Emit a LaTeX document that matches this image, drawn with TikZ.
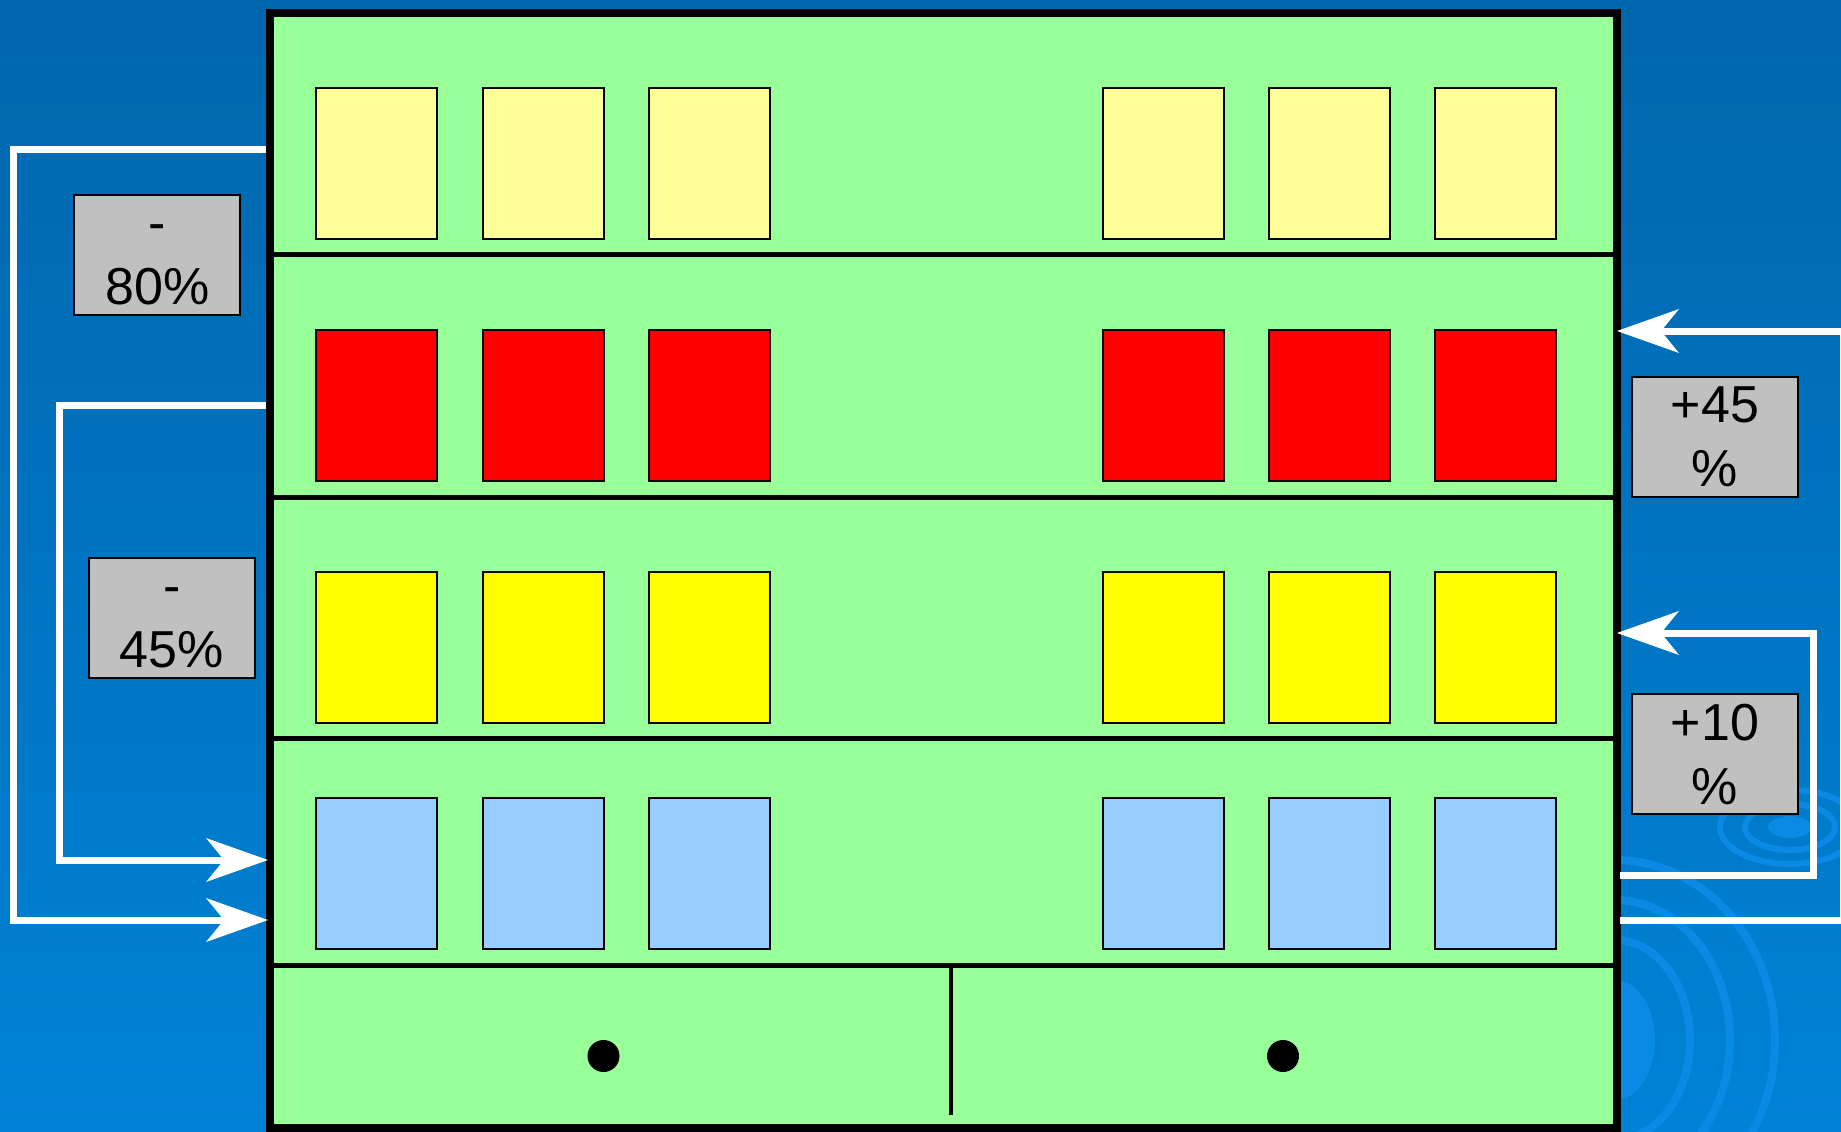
\documentclass[tikz,border=0pt]{standalone}
\usepackage{fontspec}
\setmainfont{Liberation Sans}
\usepackage{xcolor}
\usepackage{tikz}
\usetikzlibrary{arrows.meta}
\definecolor{BGTop}{HTML}{0066AC}
\definecolor{BGMid}{HTML}{006BB3}
\definecolor{BGBottom}{HTML}{0082D6}
\definecolor{BGRipple}{HTML}{0A8AE4}
\definecolor{CabGreen}{HTML}{99FF99}
\definecolor{ItemPale}{HTML}{FFFF99}
\definecolor{ItemRed}{HTML}{FF0000}
\definecolor{ItemYellow}{HTML}{FFFF00}
\definecolor{ItemBlue}{HTML}{99CCFF}
\definecolor{TagGrey}{HTML}{C0C0C0}

\begin{document}
\begin{tikzpicture}[x=1bp,y=-1bp,line join=miter,
    tag/.style={draw=black,line width=2bp,fill=TagGrey,
      minimum width=166bp,minimum height=120bp,inner sep=0pt,
      align=center,font=\fontsize{52bp}{64bp}\selectfont},
    flow/.style={draw=white,line width=7bp,
      -{Stealth[length=62bp,width=44bp,inset=18bp,line width=0pt]}},
    item/.style={draw=black,line width=2bp}]
  \useasboundingbox (0,0) rectangle (1841,1131);
  \clip (0,0) rectangle (1841,1131);

  % Backdrop with its faint ripples.
  \shade[top color=BGTop,middle color=BGMid,bottom color=BGBottom]
    (0,0) rectangle (1841,1131);
  \begin{scope}[BGRipple,line width=8bp]
    \fill (1615,1040) ellipse [x radius=40, y radius=60];
    \foreach \rx/\ry in {75/100,115/140,160/180}
      \draw (1615,1040) ellipse [x radius=\rx, y radius=\ry];
    \fill (1790,827) ellipse [x radius=22, y radius=11];
    \foreach \rx/\ry in {45/23,70/37}
      \draw[line width=6bp] (1790,827) ellipse [x radius=\rx, y radius=\ry];
  \end{scope}

  % Cabinet: four shelves and the two doors.
  \draw[line width=8bp,fill=CabGreen] (270,13) rectangle (1617,1128);
  \foreach \y in {254,497,738,965}
    \draw[line width=5bp] (270,\y) -- (1617,\y);
  \draw[line width=3.5bp] (951,965) -- (951,1115);
  \fill (603.5,1056) circle[radius=16bp];
  \fill (1283,1056) circle[radius=16bp];

  \foreach \row/\col in {88/ItemPale,330/ItemRed,572/ItemYellow,798/ItemBlue}
    \foreach \x in {316,483,649,1102.5,1269,1435}
      \draw[item,fill=\col] (\x,\row) rectangle ++(121,151);

  % Shelf ends used by the flows.
  \coordinate (shelfTopL) at (266,149.5);
  \coordinate (shelfRedL) at (266,405);
  \coordinate (shelfBaseLa) at (268,860);
  \coordinate (shelfBaseLb) at (268,920);
  \coordinate (shelfRedR) at (1617,331);
  \coordinate (shelfYelR) at (1617,633);
  \coordinate (shelfBaseRa) at (1620,875);
  \coordinate (shelfBaseRb) at (1620,920);

  \draw[flow] (shelfTopL) -- ++(-252.5,0) |- (shelfBaseLb);
  \draw[flow] (shelfRedL) -- ++(-207,0) |- (shelfBaseLa);
  \draw[flow] (shelfBaseRa) -- ++(193,0) |- (shelfYelR);
  \draw[flow] (shelfBaseRb) -- ++(223,0) |- (shelfRedR);

  \node[tag] (cutTop) at (157.3,255) {\vphantom{8}-\\80\%};
  \node[tag] (cutMid) at (172,617.5) {\vphantom{8}-\\45\%};
  \node[tag] (gainTop) at (1715,436.5) {+45\\\%};
  \node[tag] (gainLow) at (1715,754) {+10\\\%};
\end{tikzpicture}
\end{document}
